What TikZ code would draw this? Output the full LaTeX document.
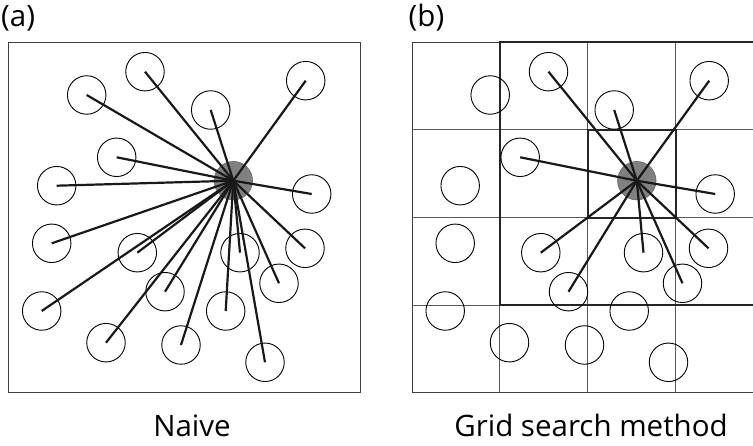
\documentclass[tikz,border=0pt]{standalone}
\usepackage{fontspec}
\setmainfont{Open Sans}
\tikzset{
  pt/.style={circle,draw=black,line width=0.9pt,minimum size=38.5pt,inner sep=0pt},
  hub/.style={circle,fill=black!50,draw=black!60,line width=0.6pt,minimum size=38.5pt,inner sep=0pt},
  spoke/.style={line width=2.2pt,black!90},
  frame/.style={draw=black!75,line width=1pt},
  cell/.style={draw=black!65,line width=1pt},
  zone/.style={draw=black!85,line width=2.2pt},
  tag/.style={font=\fontsize{29.5}{32}\selectfont,inner sep=0pt}
}
% particle positions, same in both panels
\newcommand{\ptlist}{145/71.7, 86.7/95, 210.7/110, 305.7/80.7, 116.7/157.3, 56.7/185.7,
  311.7/194, 51.7/243.3, 137.3/252.7, 240/252.7, 305/248.3, 279/283.3,
  165/291.7, 41.7/311, 225.7/311, 106/342.7, 181/345, 265/362.3}

\begin{document}
\begin{tikzpicture}[x=1pt,y=-1pt]
  \useasboundingbox (0,0) rectangle (753,446);
  \clip (0,0) rectangle (753,446);

  % (a) naive
  \node[tag,anchor=base west] (lblA) at (1,27) {(a)};
  \draw[frame] (8.5,42.3) rectangle (360,393);
  \node[hub] (hubA) at (233.3,180.7) {};
  \foreach \x/\y [count=\i] in \ptlist {
    \node[pt] (a\i) at (\x,\y) {};
  }
  \foreach \i in {1,...,18} {
    \draw[spoke] (hubA.center) -- (a\i.center);
  }
  \node[tag,anchor=base] (capA) at (192,436.7) {Naive};

  % (b) grid search
  \begin{scope}[
    xshift=403.5pt
  ]
    \node[tag,anchor=base west] (lblB) at (5,27) {(b)};
    \foreach \k in {1,2,3} {
      \draw[cell] (8.5+87.875*\k,42.3) -- (8.5+87.875*\k,393);
      \draw[cell] (8.5,42.3+87.675*\k) -- (360,42.3+87.675*\k);
    }
    \draw[frame] (8.5,42.3) rectangle (360,393);
    \draw[zone] (96.4,42.3) rectangle (447.9,305.3);
    \draw[zone] (184.25,130) rectangle (272.1,217.65);
    \node[hub] (hubB) at (233.3,180.7) {};
    \foreach \x/\y [count=\i] in \ptlist {
      \node[pt] (b\i) at (\x,\y) {};
    }
    \foreach \i in {1,3,4,5,7,9,10,11,12,13} {
      \draw[spoke] (hubB.center) -- (b\i.center);
    }
    \node[tag,anchor=base] (capB) at (187.5,436.7) {Grid search method};
  \end{scope}
\end{tikzpicture}
\end{document}
